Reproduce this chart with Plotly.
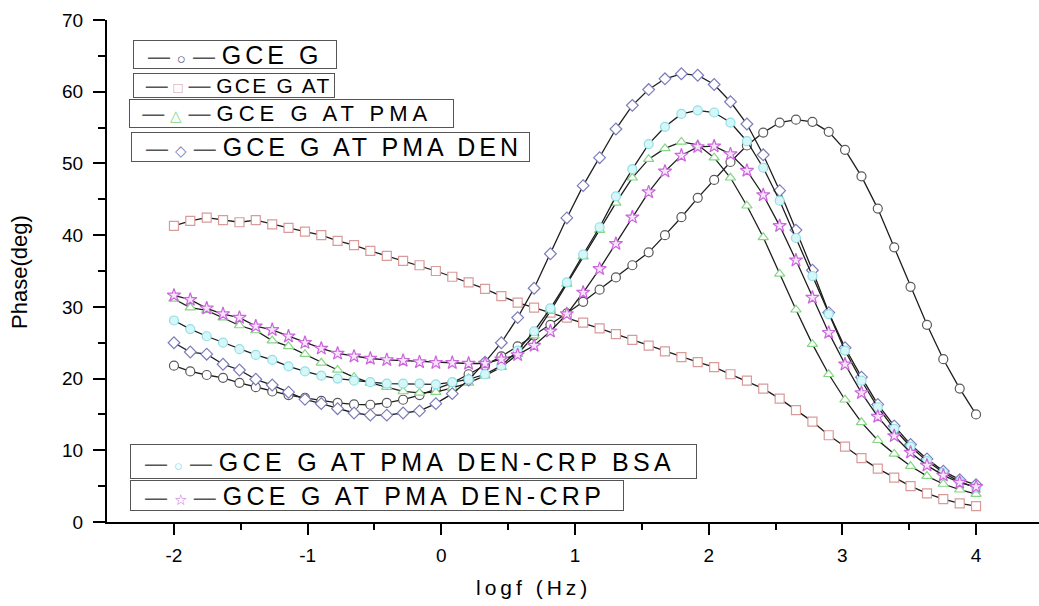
import plotly.graph_objects as go

# log frequency (Hz) sweep, 50 points from -2 to 4
logf = [-2.000, -1.878, -1.755, -1.633, -1.510, -1.388, -1.265, -1.143, -1.020, -0.898,
        -0.776, -0.653, -0.531, -0.408, -0.286, -0.163, -0.041, 0.082, 0.204, 0.327,
        0.449, 0.571, 0.694, 0.816, 0.939, 1.061, 1.184, 1.306, 1.429, 1.551,
        1.673, 1.796, 1.918, 2.041, 2.163, 2.286, 2.408, 2.531, 2.653, 2.776,
        2.898, 3.020, 3.143, 3.265, 3.388, 3.510, 3.633, 3.755, 3.878, 4.000]

gce_g = [21.8, 21.0, 20.5, 20.1, 19.4, 18.8, 18.2, 17.7, 17.3, 16.9,
         16.6, 16.4, 16.35, 16.6, 17.05, 17.7, 18.5, 19.4, 20.6, 21.8,
         23.1, 24.5, 26.0, 27.5, 29.1, 30.7, 32.4, 34.1, 35.8, 37.6,
         40.0, 42.5, 45.2, 47.7, 50.2, 52.5, 54.3, 55.7, 56.1, 55.8,
         54.4, 51.9, 48.2, 43.7, 38.3, 32.8, 27.5, 22.7, 18.6, 15.0]

gce_g_at = [41.3, 42.0, 42.45, 42.1, 41.8, 42.1, 41.5, 41.0, 40.5, 40.0,
            39.2, 38.6, 37.8, 37.1, 36.4, 35.8, 35.0, 34.2, 33.4, 32.5,
            31.5, 30.6, 29.9, 29.2, 28.5, 27.8, 27.0, 26.2, 25.4, 24.6,
            23.8, 23.0, 22.3, 21.6, 20.6, 19.7, 18.6, 17.2, 15.6, 14.0,
            12.1, 10.5, 8.9, 7.45, 6.2, 5.0, 4.0, 3.2, 2.6, 2.2]

gce_g_at_pma = [31.1, 29.9, 29.5, 28.5, 27.4, 26.7, 25.3, 24.5, 23.4, 22.2,
                21.2, 20.2, 19.4, 18.8, 18.2, 18.0, 18.1, 18.7, 19.4, 20.4,
                21.6, 23.4, 26.0, 29.4, 33.2, 37.0, 40.7, 44.5, 48.0, 50.6,
                52.1, 53.0, 52.6, 50.8, 48.0, 44.1, 39.7, 34.6, 29.6, 24.8,
                20.6, 17.05, 13.9, 11.4, 9.5, 7.8, 6.4, 5.3, 4.5, 3.9]

gce_g_at_pma_den = [25.0, 23.7, 23.4, 22.0, 21.2, 19.9, 19.1, 18.1, 17.1, 16.5,
                    15.8, 15.2, 14.9, 14.9, 15.2, 15.5, 16.5, 17.9, 19.8, 22.3,
                    25.0, 28.5, 32.6, 37.4, 42.4, 46.9, 50.8, 54.8, 58.1, 60.3,
                    61.8, 62.5, 62.3, 61.0, 58.6, 55.5, 51.2, 46.2, 40.7, 35.1,
                    29.2, 24.3, 20.2, 16.4, 13.4, 10.8, 8.8, 7.1, 5.9, 5.2]

den_crp_bsa = [28.1, 26.9, 25.9, 25.0, 24.1, 23.3, 22.6, 21.7, 21.0, 20.4,
               20.0, 19.7, 19.5, 19.3, 19.3, 19.3, 19.2, 19.5, 19.9, 20.6,
               21.8, 23.9, 26.6, 29.8, 33.4, 37.3, 41.1, 45.4, 49.2, 52.7,
               55.1, 56.9, 57.4, 57.1, 55.7, 53.1, 49.4, 44.8, 39.6, 34.3,
               29.0, 23.9, 19.7, 16.0, 13.0, 10.5, 8.5, 6.9, 5.6, 4.8]

den_crp = [31.6, 31.0, 29.8, 29.0, 28.5, 27.3, 26.8, 25.9, 25.0, 24.2,
           23.5, 23.1, 22.8, 22.6, 22.5, 22.3, 22.2, 22.2, 22.1, 22.1,
           22.7, 23.3, 24.6, 26.6, 29.0, 32.0, 35.3, 38.8, 42.5, 46.0,
           48.9, 51.1, 52.3, 52.4, 51.3, 49.0, 45.6, 41.3, 36.5, 31.3,
           26.4, 22.0, 18.0, 14.7, 12.0, 9.7, 7.9, 6.5, 5.5, 4.9]

x_ticks = [-2, -1, 0, 1, 2, 3, 4]
x_ticktext = ["-2", "-1", "0", "1", "2", "3", "4"]
y_ticks = [0, 10, 20, 30, 40, 50, 60, 70]

# name, values, plot symbol, edge colour, fill colour, legend glyph
series = [
    ("GCE G", gce_g, "circle", "#5a5a5a", "white", "\u25cb"),
    ("GCE G AT", gce_g_at, "square", "#d99a9a", "white", "\u25a1"),
    ("GCE G AT PMA", gce_g_at_pma, "triangle-up", "#86d686", "white", "\u25b3"),
    ("GCE G AT PMA DEN", gce_g_at_pma_den, "diamond", "#7c7cba", "white", "\u25c7"),
    ("GCE G AT PMA DEN-CRP BSA", den_crp_bsa, "circle", "#8fe0e6", "#d6f6f8", "\u25cb"),
    ("GCE G AT PMA DEN-CRP", den_crp, "star", "#cc66dd", "#f6e6fa", "\u2606"),
]

FONT = "Liberation Sans, Arial, sans-serif"
fig = go.Figure()
for name, ys, sym, col, fill, glyph in series:
    fig.add_trace(go.Scatter(
        x=logf, y=ys, name=name, mode="lines+markers", showlegend=False,
        line=dict(color="#1e1e1e", width=1.3),
        marker=dict(symbol=sym, size=9 if sym != "star" else 10, color=fill,
                    line=dict(color=col, width=1.2)),
    ))

W, H = 1039, 606
L, T, B = 107, 20, 522
PW, PH = W - L, B - T

# legend boxes: left, top, width, height (px), font size, letter spacing
boxes = [(133, 40, 204, 29, 25, 4.0), (133, 73, 202, 25, 21, 2.2), (129, 99, 325, 29, 22, 5.0),
         (131, 132, 399, 30, 25, 4.0), (130, 444, 567, 35, 25, 4.3), (130, 480, 494, 31, 25, 4.3)]
annotations = []
NB = "\u00a0"
for (name, ys, sym, col, fill, glyph), (lx, ty, bw, bh, fs, ls) in zip(series, boxes):
    txt = (f"{NB}{NB}<span style='color:#555;font-size:22px'>\u2014</span>{NB}"
           f"<span style='color:{col};font-size:15px'>{glyph}</span>{NB}"
           f"<span style='color:#555;font-size:22px'>\u2014</span>{NB}"
           f"<span style='letter-spacing:{ls}px'>{name}</span>")
    annotations.append(dict(
        x=(lx - L) / PW, y=(B - ty) / PH, xref="paper", yref="paper",
        xanchor="left", yanchor="top", showarrow=False, align="left", valign="middle",
        text=txt, width=bw - 2, height=bh - 2, borderpad=0,
        bordercolor="#555555", borderwidth=1, bgcolor="white",
        font=dict(family=FONT, size=fs, color="black"),
    ))

# axis titles
annotations.append(dict(
    x=(533 - L) / PW, y=(B - 588) / PH, xref="paper", yref="paper",
    xanchor="center", yanchor="middle", showarrow=False,
    text="<span style='letter-spacing:4px'>logf (Hz)</span>",
    font=dict(family=FONT, size=21, color="black"),
))
annotations.append(dict(
    x=(19 - L) / PW, y=(B - 272) / PH, xref="paper", yref="paper",
    xanchor="center", yanchor="middle", showarrow=False, textangle=-90,
    text="Phase(deg)", font=dict(family=FONT, size=22, color="black"),
))

fig.update_layout(
    width=W, height=H,
    margin=dict(l=L, r=0, t=T, b=H - B),
    plot_bgcolor="white", paper_bgcolor="white",
    font=dict(family=FONT, color="black"),
    annotations=annotations,
)
fig.update_xaxes(
    range=[-2.501, 4.471], tickvals=x_ticks, ticktext=x_ticktext,
    showline=True, linecolor="black", linewidth=2, showgrid=False, zeroline=False,
    ticks="outside", ticklen=11, tickwidth=2, tickcolor="black",
    minor=dict(tickvals=[-1.5, -0.5, 0.5, 1.5, 2.5, 3.5], ticks="outside", ticklen=6, tickwidth=2, tickcolor="black"),
    tickfont=dict(size=19), ticklabelstandoff=4,
)
fig.update_yaxes(
    range=[0, 70], tickvals=y_ticks,
    showline=True, linecolor="black", linewidth=2, showgrid=False, zeroline=False,
    ticks="outside", ticklen=12, tickwidth=2, tickcolor="black",
    minor=dict(tickvals=[5, 15, 25, 35, 45, 55, 65], ticks="outside", ticklen=7, tickwidth=2, tickcolor="black"),
    tickfont=dict(size=19), ticklabelstandoff=6,
)

fig.write_html("out.html")
